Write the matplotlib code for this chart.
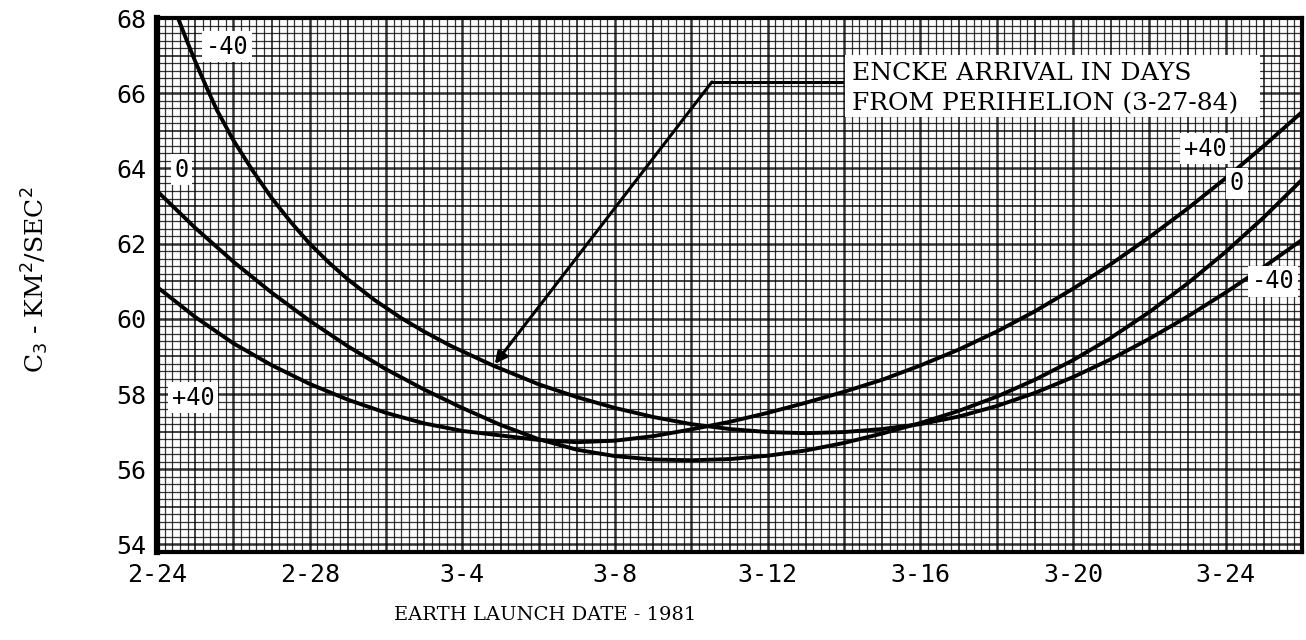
import numpy as np
import matplotlib
matplotlib.use("Agg")
import matplotlib.pyplot as plt
from matplotlib.patches import Rectangle

# -------------------------------
# C3 vs launch date, Encke rendezvous
# x = days after 2-24-1981
# -------------------------------
tick_days = [0, 4, 8, 12, 16, 20, 24, 28]
tick_labels = ["2-24", "2-28", "3-4", "3-8", "3-12", "3-16", "3-20", "3-24"]
c3_ticks = [54, 56, 58, 60, 62, 64, 66, 68]

# arrival -40 days from perihelion
days_m40 = [0.55, 0.8, 1.0, 1.3, 1.57, 2.0, 2.5, 3.0, 3.5, 4.0, 4.5, 5.0, 5.7, 6.4, 7.0,
            7.7, 8.8, 10, 11, 12, 13, 14, 15, 16, 17, 18, 19, 20, 21, 22, 23, 24, 25,
            26, 27, 28, 29, 30]
c3_m40 = [68.0, 67.35, 66.85, 66.15, 65.55, 64.75, 63.95, 63.22, 62.58, 62.0, 61.5, 61.05,
          60.5, 60.02, 59.66, 59.28, 58.76, 58.26, 57.92, 57.63, 57.39, 57.2, 57.07, 56.99,
          56.96, 56.99, 57.07, 57.2, 57.4, 57.68, 58.03, 58.45, 58.93, 59.47, 60.06, 60.7,
          61.38, 62.1]

# arrival at perihelion
days_0 = list(range(0, 31))
c3_0 = [63.4, 62.42, 61.52, 60.7, 59.95, 59.27, 58.66, 58.12, 57.63, 57.18, 56.8, 56.52,
        56.35, 56.26, 56.24, 56.27, 56.36, 56.5, 56.7, 56.95, 57.23, 57.55, 57.93, 58.38,
        58.9, 59.5, 60.18, 60.94, 61.78, 62.7, 63.7]

# arrival +40 days from perihelion
days_p40 = list(range(0, 31))
c3_p40 = [60.85, 60.05, 59.35, 58.77, 58.27, 57.85, 57.5, 57.22, 57.02, 56.9, 56.78, 56.72,
          56.76, 56.88, 57.06, 57.26, 57.5, 57.77, 58.06, 58.38, 58.76, 59.18, 59.66, 60.2,
          60.8, 61.46, 62.17, 62.93, 63.74, 64.6, 65.5]

# pointer to the -40 curve
arrow_tip = (8.85, 58.8)
arrow_knee = (14.54, 66.3)
arrow_end = (17.95, 66.3)

W, H = 1306, 640
fig = plt.figure(figsize=(W / 100, H / 100), dpi=100)
ax = fig.add_axes([157 / W, 1 - 552 / H, (1302 - 157) / W, (552 - 18) / H])

x0, x1 = 0, 30
y0, y1 = 53.8, 68.0
ax.set_xlim(x0, x1)
ax.set_ylim(y0, y1)

# graph paper: fine lines every 0.2, heavier every 1, heaviest every 2
xs = np.round(np.arange(x0, x1 + 0.001, 0.2), 2)
ys = np.round(np.arange(54.0, y1 + 0.001, 0.2), 2)
ys = np.concatenate([[53.8], ys])
for v in xs:
    if abs(v - round(v)) < 1e-6:
        lw = 1.8 if int(round(v)) % 2 == 0 else 1.3
    else:
        lw = 0.9
    ax.axvline(v, color="black", lw=lw, alpha=0.8, zorder=1)
for v in ys:
    if abs(v - round(v)) < 1e-6:
        lw = 1.8 if int(round(v)) % 2 == 0 else 1.3
    else:
        lw = 0.9
    ax.axhline(v, color="black", lw=lw, alpha=0.8, zorder=1)

# curves
for d, c in [(days_m40, c3_m40), (days_0, c3_0), (days_p40, c3_p40)]:
    ax.plot(d, c, color="black", lw=2.8, solid_capstyle="round",
            solid_joinstyle="round", zorder=3)

# pointer line with arrowhead
ax.plot([arrow_knee[0], arrow_end[0]], [arrow_knee[1], arrow_end[1]],
        color="black", lw=2.2, zorder=3)
ax.annotate("", xy=arrow_tip, xytext=arrow_knee,
            arrowprops=dict(arrowstyle="-|>", color="black", lw=2.2,
                            mutation_scale=18, shrinkA=0, shrinkB=0), zorder=3)

# curve labels
lab_font = dict(family="DejaVu Sans Mono", fontsize=17, color="black",
                ha="center", va="center", zorder=4)
box = dict(facecolor="white", edgecolor="none", pad=2.5)
ax.text(1.83, 67.23, "-40", bbox=box, **lab_font)
ax.text(0.65, 63.96, "0", bbox=box, **lab_font)
ax.text(0.95, 57.9, "+40", bbox=box, **lab_font)
ax.text(27.46, 64.52, "+40", bbox=box, **lab_font)
ax.text(28.3, 63.6, "0", bbox=box, **lab_font)
ax.text(29.25, 61.0, "-40", bbox=box, **lab_font)

# legend note on a white patch
ax.add_patch(Rectangle((0.601, 0.8146), 0.362, 0.116, transform=ax.transAxes,
                       facecolor="white", edgecolor="none", zorder=3.5))
ax.text(0.607, 0.867, "ENCKE ARRIVAL IN DAYS\nFROM PERIHELION (3-27-84)",
        transform=ax.transAxes, family="DejaVu Serif", fontsize=18,
        ha="left", va="center", linespacing=1.4, zorder=4)

# axes frame
for side in ["left", "right", "top", "bottom"]:
    ax.spines[side].set_linewidth(3.0)
    ax.spines[side].set_zorder(5)
ax.spines["left"].set_linewidth(4.5)

ax.set_xticks(tick_days)
ax.set_xticklabels(tick_labels)
ax.set_yticks(c3_ticks)
ax.tick_params(length=0, labelsize=18, pad=8)
for t in ax.get_xticklabels() + ax.get_yticklabels():
    t.set_family("DejaVu Sans Mono")

fig.text(545 / W, 1 - 615 / H, "EARTH LAUNCH DATE - 1981", family="DejaVu Serif",
         fontsize=14, ha="center", va="center")
fig.text(35 / W, 1 - 280 / H, r"C$_3$ - KM$^2$/SEC$^2$", family="DejaVu Serif",
         fontsize=18, ha="center", va="center", rotation=90)

fig.savefig("out.png", dpi=100, facecolor="white")
